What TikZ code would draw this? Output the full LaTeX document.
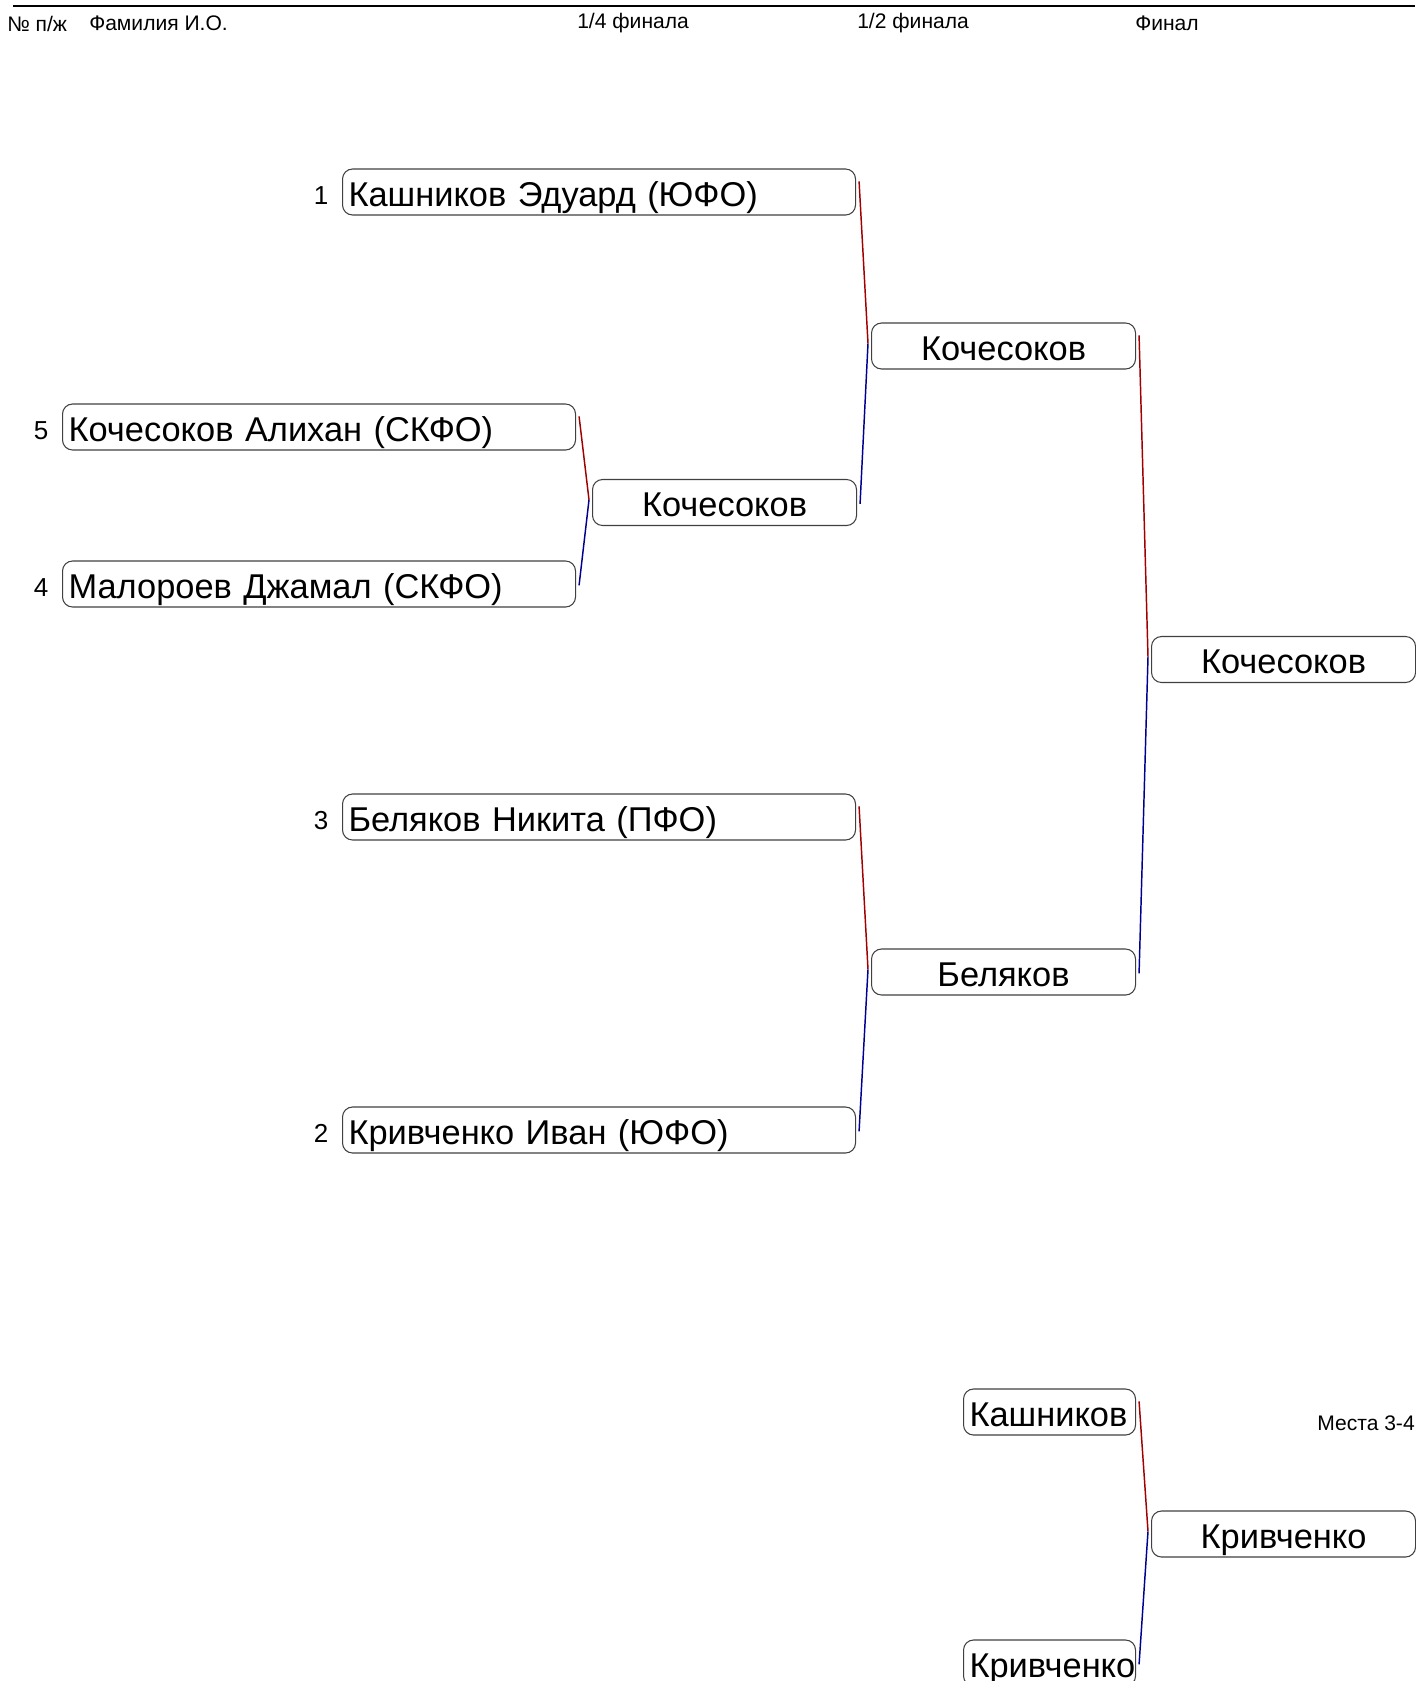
\documentclass[tikz,border=0pt]{standalone}
\usepackage{fontspec}
\setmainfont{Liberation Sans}
\usetikzlibrary{positioning}

\definecolor{upred}{HTML}{A00000}
\definecolor{lowblue}{HTML}{000090}
\newcommand{\namefont}{\fontsize{25.8}{28}\selectfont}
\newcommand{\seedfont}{\fontsize{19.5}{22}\selectfont}
\newcommand{\headfont}{\fontsize{15.8}{18}\selectfont}

\begin{document}
\begin{tikzpicture}[x=0.75pt, y=-0.75pt,
  namebox/.style={draw=black!75, line width=0.8pt, rounded corners=7.5pt, anchor=west,
    minimum height=34.5pt, inner xsep=4.5pt, text height=21pt, text depth=0pt,
    text width=375.75pt, align=left, font=\namefont},
  shortbox/.style={namebox, text width=120pt},
  winbox/.style={draw=black!75, line width=0.8pt, rounded corners=7.5pt, anchor=west,
    minimum height=34.5pt, minimum width=198pt, text height=21pt, text depth=0pt,
    font=\namefont},
  seed/.style={inner sep=0pt, yshift=-2.5pt, font=\seedfont},
  head/.style={inner sep=0pt, anchor=west, font=\headfont},
  upline/.style={draw=upred, line width=1.1pt},
  lowline/.style={draw=lowblue, line width=1.1pt}]
  \useasboundingbox (0,0) rectangle (1415,1681);

  % ---------------- header ----------------
  \draw[line width=1.5pt] (13,6) -- (1415,6);
  \foreach \x/\lab/\nm in {7/{№ п/ж}/hnum, 89/{Фамилия И.О.}/hname, 577/{1/4 финала}/hq,
      857/{1/2 финала}/hs, 1135/{Финал}/hf} {
    \node[head] (\nm) at (\x,23.5) {\lab};
  }

  % ---------------- 1/4 ----------------
  \node[namebox] (b1) at (342,192)  {Кашников Эдуард (ЮФО)};
  \node[namebox] (b5) at (62,427)   {Кочесоков Алихан (СКФО)};
  \node[namebox] (b4) at (62,584)   {Малороев Джамал (СКФО)};
  \node[namebox] (b3) at (342,817)  {Беляков Никита (ПФО)};
  \node[namebox] (b2) at (342,1130) {Кривченко Иван (ЮФО)};
  \foreach \b/\n in {b1/1, b5/5, b4/4, b3/3, b2/2}
    \node[seed, left=10pt of \b] (n\b) {\n};

  % ---------------- winners ----------------
  \node[winbox] (q1) at (592,502.5) {Кочесоков};
  \node[winbox] (s1) at (871,346)   {Кочесоков};
  \node[winbox] (s2) at (871,972)   {Беляков};
  \node[winbox] (fin) at (1151,659.5) {Кочесоков};

  % ---------------- места 3-4 ----------------
  \node[head, anchor=east] (place) at (1415,1423) {Места 3-4};
  \node[shortbox] (t1) at (963,1412) {Кашников};
  \node[shortbox] (t2) at (963,1663) {Кривченко};
  \node[winbox] (tw) at (1151,1534) {Кривченко};

  % connectors: upper entrant red, lower entrant blue
  \foreach \u/\l/\w in {b5/b4/q1, b1/q1/s1, b3/b2/s2, s1/s2/fin, t1/t2/tw} {
    \draw[upline] ([xshift=2.25pt, yshift=8pt]\u.east) -- ([xshift=-2.25pt, yshift=2pt]\w.west);
    \draw[lowline] ([xshift=2.25pt, yshift=-1pt]\l.east) -- ([xshift=-2.25pt, yshift=2pt]\w.west);
  }
\end{tikzpicture}
\end{document}
